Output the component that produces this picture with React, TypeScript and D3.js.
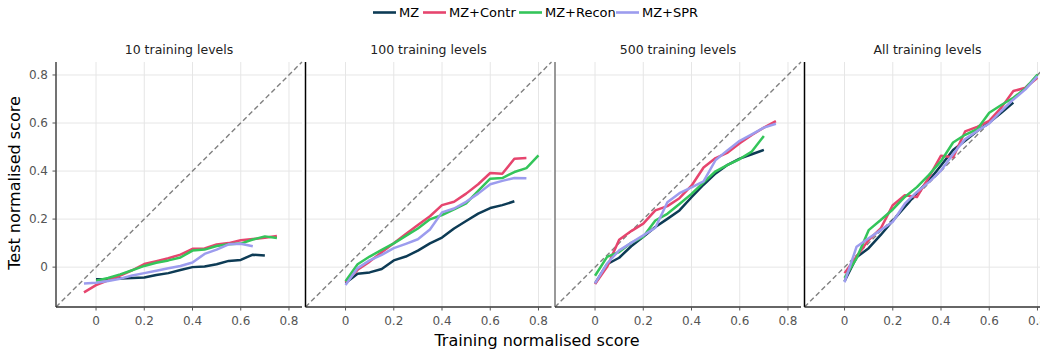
import React from "react";
import * as d3 from "d3";

const seriesNames = ["MZ", "MZ+Contr", "MZ+Recon", "MZ+SPR"];
const seriesColors = ["#0d3b55", "#e6456e", "#34c55a", "#9c9cee"];
const panelTitles = ["10 training levels", "100 training levels", "500 training levels", "All training levels"];
const tickValues = [0, 0.2, 0.4, 0.6, 0.8];
const tickLabels = ["0", "0.2", "0.4", "0.6", "0.8"];

// x positions (training score) — step of 0.05
const xs = (start: number, n: number) => Array.from({ length: n }, (_, i) => +(start + i * 0.05).toFixed(2));

// Panel 1: 10 training levels
const p1_MZ = [-0.05, -0.05, -0.047, -0.045, -0.043, -0.033, -0.025, -0.012, 0.0, 0.003, 0.012, 0.026, 0.03, 0.052, 0.048];
const p1_Contr = [-0.105, -0.075, -0.055, -0.035, -0.013, 0.013, 0.025, 0.037, 0.052, 0.076, 0.078, 0.094, 0.1, 0.112, 0.117, 0.122, 0.13];
const p1_Recon = [-0.057, -0.045, -0.03, -0.013, 0.005, 0.018, 0.028, 0.04, 0.069, 0.073, 0.088, 0.095, 0.098, 0.115, 0.128, 0.121];
const p1_SPR = [-0.068, -0.065, -0.058, -0.048, -0.035, -0.025, -0.015, -0.005, 0.005, 0.019, 0.055, 0.073, 0.095, 0.097, 0.087];

// Panel 2: 100 training levels
const p2_MZ = [-0.066, -0.028, -0.022, -0.008, 0.028, 0.044, 0.069, 0.099, 0.123, 0.161, 0.192, 0.223, 0.246, 0.258, 0.274];
const p2_Contr = [-0.063, -0.011, 0.023, 0.062, 0.099, 0.138, 0.175, 0.212, 0.258, 0.272, 0.306, 0.345, 0.392, 0.389, 0.451, 0.454];
const p2_Recon = [-0.059, 0.012, 0.044, 0.072, 0.099, 0.13, 0.161, 0.199, 0.217, 0.24, 0.265, 0.317, 0.368, 0.371, 0.396, 0.412, 0.465];
const p2_SPR = [-0.074, -0.004, 0.028, 0.051, 0.079, 0.097, 0.116, 0.157, 0.228, 0.244, 0.272, 0.306, 0.345, 0.359, 0.371, 0.37];

// Panel 3: 500 training levels
const p3_MZ = [-0.068, 0.012, 0.039, 0.087, 0.126, 0.167, 0.201, 0.236, 0.291, 0.343, 0.39, 0.426, 0.452, 0.47, 0.488];
const p3_Contr = [-0.07, 0.001, 0.114, 0.15, 0.181, 0.236, 0.254, 0.287, 0.339, 0.415, 0.454, 0.477, 0.516, 0.55, 0.581, 0.608];
const p3_Recon = [-0.036, 0.043, 0.063, 0.101, 0.126, 0.194, 0.222, 0.263, 0.305, 0.353, 0.399, 0.426, 0.45, 0.481, 0.546];
const p3_SPR = [-0.068, 0.015, 0.07, 0.101, 0.132, 0.164, 0.27, 0.308, 0.332, 0.357, 0.446, 0.487, 0.526, 0.553, 0.581, 0.597];

// Panel 4: All training levels
const p4_MZ = [-0.059, 0.041, 0.079, 0.134, 0.193, 0.251, 0.309, 0.361, 0.423, 0.488, 0.526, 0.567, 0.602, 0.643, 0.685];
const p4_Contr = [-0.025, 0.044, 0.113, 0.161, 0.258, 0.299, 0.292, 0.375, 0.464, 0.457, 0.565, 0.584, 0.609, 0.664, 0.733, 0.747, 0.788];
const p4_Recon = [-0.045, 0.037, 0.154, 0.196, 0.24, 0.292, 0.333, 0.384, 0.441, 0.519, 0.551, 0.574, 0.643, 0.675, 0.705, 0.744, 0.802];
const p4_SPR = [-0.063, 0.085, 0.12, 0.154, 0.189, 0.264, 0.313, 0.354, 0.402, 0.471, 0.533, 0.567, 0.598, 0.65, 0.698, 0.74, 0.795];

const panelData: { x: number[]; y: number[] }[][] = [
  [
    { x: xs(0, p1_MZ.length), y: p1_MZ },
    { x: xs(-0.05, p1_Contr.length), y: p1_Contr },
    { x: xs(0, p1_Recon.length), y: p1_Recon },
    { x: xs(-0.05, p1_SPR.length), y: p1_SPR },
  ],
  [
    { x: xs(0, p2_MZ.length), y: p2_MZ },
    { x: xs(0, p2_Contr.length), y: p2_Contr },
    { x: xs(0, p2_Recon.length), y: p2_Recon },
    { x: xs(0, p2_SPR.length), y: p2_SPR },
  ],
  [
    { x: xs(0, p3_MZ.length), y: p3_MZ },
    { x: xs(0, p3_Contr.length), y: p3_Contr },
    { x: xs(0, p3_Recon.length), y: p3_Recon },
    { x: xs(0, p3_SPR.length), y: p3_SPR },
  ],
  [
    { x: xs(0, p4_MZ.length), y: p4_MZ },
    { x: xs(0, p4_Contr.length), y: p4_Contr },
    { x: xs(0, p4_Recon.length), y: p4_Recon },
    { x: xs(0, p4_SPR.length), y: p4_SPR },
  ],
];

const W = 1040;
const H = 349;
const panelLeft = [56, 305.5, 555, 804.5];
const panelW = 246;
const top = 62;
const bottom = 307;
const domain: [number, number] = [-0.166, 0.854];
const leftAxisColors = ["#444", "#000", "#777", "#000"];
const FONT = "DejaVu Sans, Verdana, sans-serif";

export default function App() {
  const y = d3.scaleLinear().domain(domain).range([bottom, top]);
  return (
    <svg width={W} height={H} style={{ position: "absolute", left: 0, top: 0, background: "#fff" }} fontFamily={FONT}>
      <defs>
        {panelLeft.map((l, i) => (
          <clipPath id={`clip${i}`} key={i}>
            <rect x={l} y={top} width={panelW} height={bottom - top} />
          </clipPath>
        ))}
      </defs>
      {/* legend */}
      {(() => {
        const starts = [373, 423, 519, 616];
        return seriesNames.map((n, i) => (
          <g key={n}>
            <line x1={starts[i]} x2={starts[i] + 23} y1={12.5} y2={12.5} stroke={seriesColors[i]} strokeWidth={2.6} />
            <text x={starts[i] + 26} y={12.5} dy="0.35em" fontSize={13} fill="#000">{n}</text>
          </g>
        ));
      })()}
      {panelLeft.map((l, pi) => {
        const x = d3.scaleLinear().domain(domain).range([l, l + panelW]);
        const line = d3.line<[number, number]>().x((d) => x(d[0])).y((d) => y(d[1]));
        return (
          <g key={pi}>
            <text x={l + panelW / 2} y={54} textAnchor="middle" fontSize={12.5} fill="#222">{panelTitles[pi]}</text>
            {tickValues.map((t) => (
              <g key={t}>
                <line x1={x(t)} x2={x(t)} y1={top} y2={bottom} stroke="#e6e6e6" strokeWidth={1} />
                <line x1={l} x2={l + panelW} y1={y(t)} y2={y(t)} stroke="#e6e6e6" strokeWidth={1} />
              </g>
            ))}
            <line x1={x(domain[0])} y1={y(domain[0])} x2={x(domain[1])} y2={y(domain[1])} stroke="#808080" strokeWidth={1.4} strokeDasharray="5,3" />
            <g clipPath={`url(#clip${pi})`}>
              {panelData[pi].map((s, si) => (
                <path
                  key={si}
                  d={line(s.x.map((xv, k) => [xv, s.y[k]] as [number, number])) || ""}
                  fill="none"
                  stroke={seriesColors[si]}
                  strokeWidth={2.5}
                  strokeLinejoin="round"
                />
              ))}
            </g>
            {/* axes */}
            <line x1={l} x2={l} y1={top} y2={bottom} stroke={leftAxisColors[pi]} strokeWidth={1.5} />
            <line x1={l} x2={l + panelW} y1={bottom} y2={bottom} stroke="#333" strokeWidth={1.5} />
            {tickValues.map((t, ti) => (
              <g key={t}>
                <line x1={x(t)} x2={x(t)} y1={bottom} y2={bottom + 3.5} stroke="#555" strokeWidth={1} />
                <text x={x(t)} y={321} dy="0.35em" textAnchor="middle" fontSize={12} fill="#555">{tickLabels[ti]}</text>
              </g>
            ))}
            {pi === 0 &&
              tickValues.map((t, ti) => (
                <g key={"y" + t}>
                  <line x1={l - 3.5} x2={l} y1={y(t)} y2={y(t)} stroke="#555" strokeWidth={1} />
                  <text x={48} y={y(t)} dy="0.35em" textAnchor="end" fontSize={12} fill="#555">{tickLabels[ti]}</text>
                </g>
              ))}
          </g>
        );
      })}
      <text x={537} y={340} dy="0.35em" textAnchor="middle" fontSize={16} fill="#000">Training normalised score</text>
      <text transform="translate(14,183) rotate(-90)" dy="0.35em" textAnchor="middle" fontSize={16} fill="#000">Test normalised score</text>
    </svg>
  );
}
